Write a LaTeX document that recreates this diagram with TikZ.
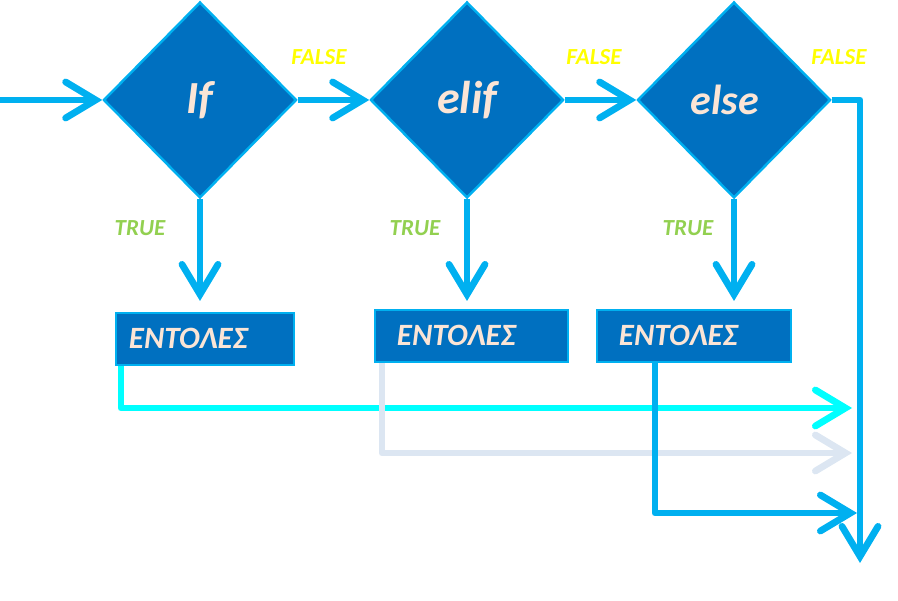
\documentclass[tikz,border=0pt]{standalone}
\usepackage{fontspec}
\setmainfont{Carlito}
\usetikzlibrary{arrows.meta,shapes.geometric}
\definecolor{lblue}{HTML}{00B0F0}
\definecolor{dblue}{HTML}{0070C0}
\definecolor{peach}{HTML}{FBE5D6}
\definecolor{cyanl}{HTML}{00FFFF}
\definecolor{greyl}{HTML}{DCE6F2}
\definecolor{yel}{HTML}{FFFF00}
\definecolor{grn}{HTML}{92D050}
\tikzset{
  dec/.style={diamond, fill=dblue, draw=lblue, line width=2.5pt, minimum width=193pt, minimum height=196pt, inner sep=0pt, text=peach, font=\fontsize{46}{46}\selectfont\bfseries\itshape},
  cmd/.style={rectangle, fill=dblue, draw=lblue, line width=1.8pt, minimum height=52pt, align=left, text=peach, font=\fontsize{31}{31}\selectfont\bfseries\itshape, anchor=north west},
  arr/.style={line width=6.8pt, line join=round, -{Straight Barb[length=30pt,width=36pt,line cap=round]}},
  flab/.style={text=yel, font=\fontsize{23}{23}\selectfont\bfseries\itshape},
  tlab/.style={text=grn, font=\fontsize{23}{23}\selectfont\bfseries\itshape},
}
\begin{document}
\begin{tikzpicture}[x=1pt,y=-1pt]
\useasboundingbox (0,0) rectangle (898,601);
% decisions
\node[dec] (ifd) at (200,100) {If};
\node[dec] (elifd) at (467,100) {elif};
\node[dec, font=\fontsize{42}{42}\selectfont\bfseries\itshape] (elsed) at (734,100) {\hspace*{-18pt}else};
% command boxes
\node[cmd, inner xsep=13pt, text width=152pt] (b1) at (115,312) {ΕΝΤΟΛΕΣ};
\node[cmd, inner xsep=22pt, text width=149pt] (b2) at (374,309) {ΕΝΤΟΛΕΣ};
\node[cmd, inner xsep=22pt, text width=150pt] (b3) at (596,309) {ΕΝΤΟΛΕΣ};
% labels
\node[flab] (f1) at (319,57) {FALSE};
\node[flab] (f2) at (594,57) {FALSE};
\node[flab] (f3) at (839,57) {FALSE};
\node[tlab] (t1) at (140,228) {TRUE};
\node[tlab] (t2) at (415,228) {TRUE};
\node[tlab] (t3) at (688,228) {TRUE};
% coordinates
\coordinate (start) at (0,100);
\coordinate (fend) at (860,563);
\coordinate (a1) at (200,301);
\coordinate (a2) at (467,301);
\coordinate (a3) at (734,301);
\coordinate (c1) at (852,408);
\coordinate (c2) at (852,453);
\coordinate (c3) at (857,513);
% connectors
\draw[arr, lblue] (start) -- (ifd.west);
\draw[arr, lblue] (ifd.east) -- (elifd.west);
\draw[arr, lblue] (elifd.east) -- (elsed.west);
\draw[arr, lblue] (elsed.east) -| (fend);
\draw[arr, lblue] (ifd.south) -- (a1);
\draw[arr, lblue] (elifd.south) -- (a2);
\draw[arr, lblue] (elsed.south) -- (a3);
\draw[arr, cyanl] ([xshift=6pt]b1.south west) |- (c1);
\draw[arr, greyl] ([xshift=8pt]b2.south west) |- (c2);
\draw[arr, lblue] ([xshift=59pt]b3.south west) |- (c3);
\end{tikzpicture}
\end{document}
